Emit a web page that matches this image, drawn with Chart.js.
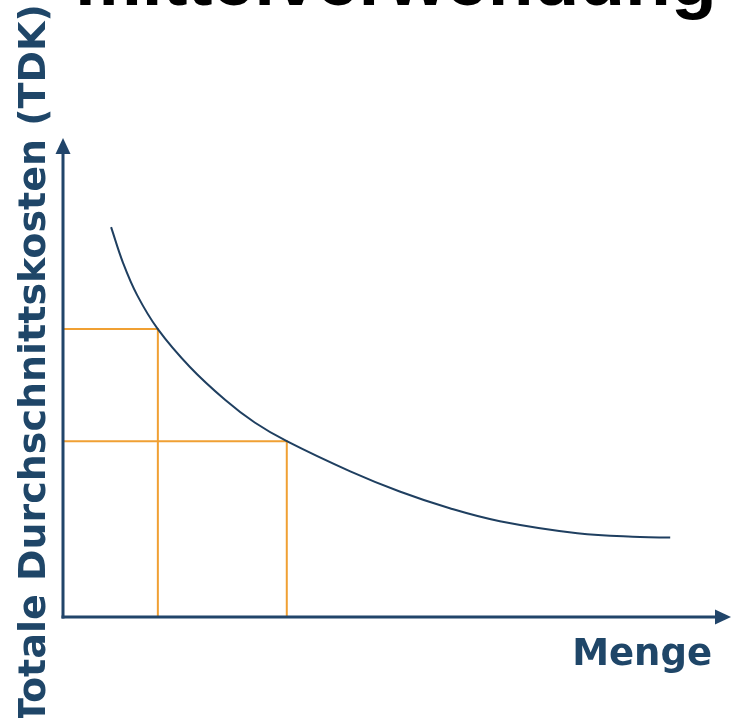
<!DOCTYPE html>
<html>
<head>
<meta charset="utf-8">
<script src="https://cdn.jsdelivr.net/npm/chart.js@4.4.1/dist/chart.umd.min.js"></script>
<style>
  html, body { margin: 0; padding: 0; background: #ffffff; overflow: hidden; }
  #wrap { width: 731px; height: 718px; position: relative; }
</style>
</head>
<body>
<div id="wrap"><canvas id="c" width="731" height="718"></canvas></div>
<script>
// Text
const titleText = 'mittelverwendung';
const xAxisLabel = 'Menge';
const yAxisLabel = 'Totale Durchschnittskosten (TDK)';

// Average total cost curve (quantity -> TDK)
const quantity = [7.2, 9.0, 11.1, 14.2, 19.0, 24.3, 28.7, 33.5, 43.0, 50.4, 57.9, 65.4, 77.0, 86.4, 90.9];
const tdk      = [81.4, 73.9, 67.2, 60.1, 52.2, 45.3, 40.6, 36.7, 30.4, 26.2, 22.7, 20.0, 17.5, 16.7, 16.6];

// Two marked operating points on the curve
const guideQuantity = [14.2, 33.5];
const guideCost     = [60.1, 36.7];

const NAVY = '#21456a';
const CURVE = '#1f3f60';
const LABEL = '#1f4668';
const ORANGE = '#f0a033';

const curveData = quantity.map((q, i) => ({ x: q, y: tdk[i] }));

const guideSets = guideQuantity.map((q, i) => ({
  data: [
    { x: 0, y: guideCost[i] },
    { x: q, y: guideCost[i] },
    { x: q, y: 0 },
    { x: 0, y: 0 }
  ],
  borderColor: ORANGE,
  borderWidth: 2,
  pointRadius: 0,
  tension: 0,
  fill: false,
  clip: false,
  order: 2
}));

// Axes with arrowheads plus the free-standing labels
const axesAndLabels = {
  id: 'axesAndLabels',
  afterDatasetsDraw(chart) {
    const ctx = chart.ctx;
    const xs = chart.scales.x, ys = chart.scales.y;
    const x0 = xs.getPixelForValue(0);
    const y0 = ys.getPixelForValue(0);
    const top = chart.chartArea.top;
    const right = chart.chartArea.right;
    const head = 16, half = 7.5;
    ctx.save();
    ctx.strokeStyle = NAVY;
    ctx.fillStyle = NAVY;
    ctx.lineWidth = 3;
    ctx.lineCap = 'butt';
    // vertical axis
    ctx.beginPath();
    ctx.moveTo(x0, y0 + 1.5);
    ctx.lineTo(x0, top + head);
    ctx.stroke();
    ctx.beginPath();
    ctx.moveTo(x0, top);
    ctx.lineTo(x0 - half, top + head);
    ctx.lineTo(x0 + half, top + head);
    ctx.closePath();
    ctx.fill();
    // horizontal axis
    ctx.beginPath();
    ctx.moveTo(x0 - 1.5, y0);
    ctx.lineTo(right - head, y0);
    ctx.stroke();
    ctx.beginPath();
    ctx.moveTo(right, y0);
    ctx.lineTo(right - head, y0 - half);
    ctx.lineTo(right - head, y0 + half);
    ctx.closePath();
    ctx.fill();
    ctx.restore();
  },
  afterDraw(chart) {
    const ctx = chart.ctx;
    ctx.save();
    // heading (runs off the top edge)
    ctx.fillStyle = '#000000';
    ctx.font = 'bold 75px "Liberation Sans", Arial, sans-serif';
    ctx.textAlign = 'left';
    ctx.textBaseline = 'alphabetic';
    ctx.fillText(titleText, 75, 5);

    // x label
    ctx.fillStyle = LABEL;
    ctx.font = 'bold 37px "DejaVu Sans", sans-serif';
    ctx.textAlign = 'right';
    ctx.fillText(xAxisLabel, 712, 665);

    // y label, rotated
    ctx.font = 'bold 38px "DejaVu Sans", sans-serif';
    ctx.translate(45, 364);
    ctx.rotate(-Math.PI / 2);
    ctx.textAlign = 'center';
    ctx.fillText(yAxisLabel, 0, 0);
    ctx.restore();
  }
};

new Chart(document.getElementById('c'), {
  type: 'line',
  data: {
    datasets: [
      {
        data: curveData,
        borderColor: CURVE,
        borderWidth: 2,
        pointRadius: 0,
        tension: 0.4,
        fill: false,
        clip: false,
        order: 1
      },
      ...guideSets
    ]
  },
  options: {
    responsive: false,
    animation: false,
    events: [],
    layout: { padding: { left: 63, right: 0, top: 138, bottom: 101 } },
    plugins: { legend: { display: false }, tooltip: { enabled: false }, title: { display: false } },
    scales: {
      x: { type: 'linear', min: 0, max: 100, display: false },
      y: { type: 'linear', min: 0, max: 100, display: false }
    }
  },
  plugins: [axesAndLabels]
});
</script>
</body>
</html>
